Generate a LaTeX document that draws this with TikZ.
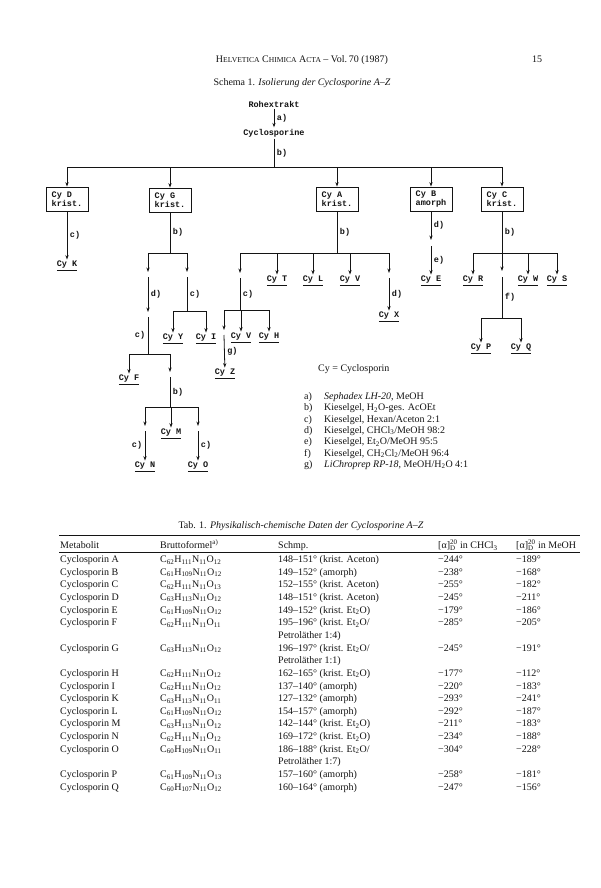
\documentclass[tikz,border=0pt]{standalone}
\usepackage{fontspec}
\setmainfont{Liberation Serif}
\newfontfamily\treefont{Liberation Mono}
\usetikzlibrary{arrows.meta}
\definecolor{ink}{RGB}{20,20,20}
\newcommand\tsub[1]{\textsubscript{#1}}
\newcommand\smc[1]{{\fontsize{7.6}{9}\selectfont #1}}
\newcommand\cy[1]{\underline{Cy #1}}
\newcommand\alD{[α]\rlap{\textsubscript{D}}\textsuperscript{20}}
\tikzset{
  cyfont/.style={font=\treefont\bfseries\fontsize{8.5}{9.5}\selectfont, text=ink},
  cytxt/.style={cyfont, inner sep=1.5pt},
  cybox/.style={cyfont, rectangle, draw=ink, line width=0.8pt, minimum width=42pt, minimum height=24pt, align=left, inner xsep=4pt},
  lab/.style={cyfont, right, inner sep=2.5pt},
  ln/.style={line width=0.8pt, color=ink},
  arr/.style={-{Stealth[length=4.5pt,width=3.2pt]}, line width=0.8pt, color=ink},
  txt/.style={font=\fontsize{10}{12}\selectfont, anchor=base west, inner sep=0pt, text=ink},
  ctxt/.style={txt, anchor=base}
}

\begin{document}
\begin{tikzpicture}[x=1pt, y=-1pt]
  \useasboundingbox (0,0) rectangle (600,888);
  \fill[white] (0,0) rectangle (600,888);

  % Page head
  \node[ctxt] (head) at (302,62.5) {H\smc{ELVETICA} C\smc{HIMICA} A\smc{CTA} -- Vol.\,70 (1987)};
  \node[txt] (pageno) at (532,62.5) {15};
  \node[ctxt] (schema) at (302,85.5) {Schema 1. \textit{Isolierung der Cyclosporine A--Z}};

  % Trunk
  \node[cytxt] (roh) at (274,104) {Rohextrakt};
  \node[cytxt] (cyc) at (274,133) {Cyclosporine};
  \draw[arr] (roh) -- (cyc) node[lab, midway] {a)};
  \coordinate (top) at (274,167);
  \draw[ln] (cyc) -- (top) node[lab, midway] {b)};

  % Crystallised / amorphous fractions
  \node[cybox] (cyD) at (67,199) {Cy D\\krist.};
  \node[cybox] (cyG) at (170,200) {Cy G\\krist.};
  \node[cybox] (cyA) at (337,199) {Cy A\\krist.};
  \node[cybox] (cyB) at (431,199) {Cy B\\amorph};
  \node[cybox] (cyC) at (502,199) {Cy C\\krist.};
  \draw[ln] (cyD |- top) -- (cyC |- top);
  \foreach \b in {cyD,cyG,cyA,cyB,cyC}
    \draw[arr] (\b |- top) -- (\b);

  % Cy D
  \node[cytxt] (cyK) at (67,266) {\cy{K}};
  \draw[arr] (cyD) -- (cyK) node[lab, midway] {c)};

  % Cy G
  \coordinate (gB) at (170,253);
  \draw[ln] (cyG) -- (gB) node[lab, midway] {b)};
  \coordinate (g1) at (148,272);
  \coordinate (g2) at (187,272);
  \draw[ln] (g1 |- gB) -- (g2 |- gB);
  \draw[arr] (g1 |- gB) -- (g1);
  \draw[arr] (g2 |- gB) -- (g2);
  \coordinate (g3) at (148,312);
  \draw[arr] ([yshift=-5pt]g1) -- (g3) node[lab, midway] {d)};
  \coordinate (gF) at (148,354);
  \draw[ln] ([yshift=-5pt]g3) -- (gF) node[lab, left, midway] {c)};
  \node[cytxt] (cyF) at (129,380) {\cy{F}};
  \coordinate (g4) at (170,372);
  \draw[ln] (cyF |- gF) -- (g4 |- gF);
  \draw[arr] (cyF |- gF) -- (cyF);
  \draw[arr] (g4 |- gF) -- (g4);
  \coordinate (gM) at (170,407);
  \draw[ln] ([yshift=-5pt]g4) -- (gM) node[lab, midway] {b)};
  \coordinate (g5) at (145,426);
  \coordinate (g6) at (198,426);
  \node[cytxt] (cyM) at (171,434) {\cy{M}};
  \draw[ln] (g5 |- gM) -- (g6 |- gM);
  \draw[arr] (g5 |- gM) -- (g5);
  \draw[arr] (cyM |- gM) -- (cyM);
  \draw[arr] (g6 |- gM) -- (g6);
  \node[cytxt] (cyN) at (145,467) {\cy{N}};
  \node[cytxt] (cyO) at (198,467) {\cy{O}};
  \draw[arr] ([yshift=-5pt]g5) -- (cyN) node[lab, left, midway] {c)};
  \draw[arr] ([yshift=-5pt]g6) -- (cyO) node[lab, midway] {c)};
  \coordinate (gY) at (187,311);
  \draw[ln] ([yshift=-5pt]g2) -- (gY) node[lab, midway] {c)};
  \node[cytxt] (cyY) at (173,339) {\cy{Y}};
  \node[cytxt] (cyI) at (206,339) {\cy{I}};
  \draw[ln] (cyY |- gY) -- (cyI |- gY);
  \draw[arr] (cyY |- gY) -- (cyY);
  \draw[arr] (cyI |- gY) -- (cyI);

  % Cy A
  \coordinate (aB) at (337,253);
  \draw[ln] (cyA) -- (aB) node[lab, midway] {b)};
  \coordinate (a1) at (240,273);
  \coordinate (a2) at (389,273);
  \node[cytxt] (cyT) at (277,281) {\cy{T}};
  \node[cytxt] (cyL) at (313,281) {\cy{L}};
  \node[cytxt] (cyV) at (350,281) {\cy{V}};
  \draw[ln] (a1 |- aB) -- (a2 |- aB);
  \foreach \n in {a1,cyT,cyL,cyV,a2}
    \draw[arr] (\n |- aB) -- (\n);
  \node[cytxt] (cyX) at (389,317) {\cy{X}};
  \draw[arr] ([yshift=-5pt]a2) -- (cyX) node[lab, midway] {d)};
  \coordinate (aC) at (240,310);
  \draw[ln] ([yshift=-5pt]a1) -- (aC) node[lab, midway] {c)};
  \coordinate (a3) at (224,330);
  \node[cytxt] (cyVb) at (241,338) {\cy{V}};
  \node[cytxt] (cyH) at (269,338) {\cy{H}};
  \draw[ln] (a3 |- aC) -- (cyH |- aC);
  \foreach \n in {a3,cyVb,cyH}
    \draw[arr] (\n |- aC) -- (\n);
  \node[cytxt] (cyZ) at (225,374) {\cy{Z}};
  \draw[arr] ([yshift=-5pt]a3) -- (cyZ) node[lab, midway] {g)};

  % Cy B
  \coordinate (b1) at (431,240);
  \draw[arr] (cyB) -- (b1) node[lab, midway] {d)};
  \node[cytxt] (cyE) at (431,281) {\cy{E}};
  \draw[arr] ([yshift=-6pt]b1) -- (cyE) node[lab, midway] {e)};

  % Cy C
  \coordinate (cB) at (502,253);
  \draw[ln] (cyC) -- (cB) node[lab, midway] {b)};
  \node[cytxt] (cyR) at (473,281) {\cy{R}};
  \coordinate (c1) at (502,271);
  \node[cytxt] (cyW) at (528,281) {\cy{W}};
  \node[cytxt] (cyS) at (557,281) {\cy{S}};
  \draw[ln] (cyR |- cB) -- (cyS |- cB);
  \foreach \n in {cyR,c1,cyW,cyS}
    \draw[arr] (\n |- cB) -- (\n);
  \coordinate (cP) at (502,318);
  \draw[ln] ([yshift=-6pt]c1) -- (cP) node[lab, midway] {f)};
  \node[cytxt] (cyP) at (481,349) {\cy{P}};
  \node[cytxt] (cyQ) at (521,349) {\cy{Q}};
  \draw[ln] (cyP |- cP) -- (cyQ |- cP);
  \draw[arr] (cyP |- cP) -- (cyP);
  \draw[arr] (cyQ |- cP) -- (cyQ);

  % Legend
  \node[txt] (cyeq) at (318,371.5) {Cy = Cyclosporin};
  \foreach \i/\k/\t in {0/a/{\textit{Sephadex LH-20}, MeOH},
      1/b/{Kieselgel, H\tsub{2}O-ges. AcOEt},
      2/c/{Kieselgel, Hexan/Aceton 2:1},
      3/d/{Kieselgel, CHCl\tsub{3}/MeOH 98:2},
      4/e/{Kieselgel, Et\tsub{2}O/MeOH 95:5},
      5/f/{Kieselgel, CH\tsub{2}Cl\tsub{2}/MeOH 96:4},
      6/g/{\textit{LiChroprep RP-18}, MeOH/H\tsub{2}O 4:1}}
  {
    \node[txt] (key\k) at (304,399.5+11.3*\i) {\k)};
    \node[txt] (leg\k) at (324,399.5+11.3*\i) {\t};
  }

  % Table
  \node[ctxt] (tabcap) at (301,528) {Tab. 1. \textit{Physikalisch-chemische Daten der Cyclosporine A--Z}};
  \coordinate (ruleL) at (59,535);
  \coordinate (ruleR) at (580,535);
  \draw[line width=0.9pt, ink] (ruleL) -- (ruleR);
  \draw[line width=0.4pt, ink] ([yshift=-17pt]ruleL) -- ([yshift=-17pt]ruleR);
  \node[txt] (hmet) at (60,548.5) {Metabolit};
  \node[txt] (hbr) at (160,548.5) {Bruttoformel\textsuperscript{a)}};
  \node[txt] (hsm) at (278,548.5) {Schmp.};
  \node[txt] (hch) at (438,548.5) {\alD{} in CHCl\tsub{3}};
  \node[txt] (hme) at (516,548.5) {\alD{} in MeOH};
  \foreach \i/\c/\f/\s/\p/\q in {
      0/A/{C\tsub{62}H\tsub{111}N\tsub{11}O\tsub{12}}/{148–151° (krist. Aceton)}/−244°/−189°,
      1/B/{C\tsub{61}H\tsub{109}N\tsub{11}O\tsub{12}}/{149–152° (amorph)}/−238°/−168°,
      2/C/{C\tsub{62}H\tsub{111}N\tsub{11}O\tsub{13}}/{152–155° (krist. Aceton)}/−255°/−182°,
      3/D/{C\tsub{63}H\tsub{113}N\tsub{11}O\tsub{12}}/{148–151° (krist. Aceton)}/−245°/−211°,
      4/E/{C\tsub{61}H\tsub{109}N\tsub{11}O\tsub{12}}/{149–152° (krist. Et\tsub{2}O)}/−179°/−186°,
      5/F/{C\tsub{62}H\tsub{111}N\tsub{11}O\tsub{11}}/{195–196° (krist. Et\tsub{2}O/}/−285°/−205°,
      7/G/{C\tsub{63}H\tsub{113}N\tsub{11}O\tsub{12}}/{196–197° (krist. Et\tsub{2}O/}/−245°/−191°,
      9/H/{C\tsub{62}H\tsub{111}N\tsub{11}O\tsub{12}}/{162–165° (krist. Et\tsub{2}O)}/−177°/−112°,
      10/I/{C\tsub{62}H\tsub{111}N\tsub{11}O\tsub{12}}/{137–140° (amorph)}/−220°/−183°,
      11/K/{C\tsub{63}H\tsub{113}N\tsub{11}O\tsub{11}}/{127–132° (amorph)}/−293°/−241°,
      12/L/{C\tsub{61}H\tsub{109}N\tsub{11}O\tsub{12}}/{154–157° (amorph)}/−292°/−187°,
      13/M/{C\tsub{63}H\tsub{113}N\tsub{11}O\tsub{12}}/{142–144° (krist. Et\tsub{2}O)}/−211°/−183°,
      14/N/{C\tsub{62}H\tsub{111}N\tsub{11}O\tsub{12}}/{169–172° (krist. Et\tsub{2}O)}/−234°/−188°,
      15/O/{C\tsub{60}H\tsub{109}N\tsub{11}O\tsub{11}}/{186–188° (krist. Et\tsub{2}O/}/−304°/−228°,
      17/P/{C\tsub{61}H\tsub{109}N\tsub{11}O\tsub{13}}/{157–160° (amorph)}/−258°/−181°,
      18/Q/{C\tsub{60}H\tsub{107}N\tsub{11}O\tsub{12}}/{160–164° (amorph)}/−247°/−156°}
  {
    \node[txt] (met\c) at (60,562.5+12.65*\i) {Cyclosporin \c};
    \node[txt] (br\c) at (160,562.5+12.65*\i) {\f};
    \node[txt] (sm\c) at (278,562.5+12.65*\i) {\s};
    \node[txt] (ch\c) at (438,562.5+12.65*\i) {\p};
    \node[txt] (me\c) at (516,562.5+12.65*\i) {\q};
  }
  \node[txt] (petF) at (278,562.5+12.65*6) {Petroläther 1:4)};
  \node[txt] (petG) at (278,562.5+12.65*8) {Petroläther 1:1)};
  \node[txt] (petO) at (278,562.5+12.65*16) {Petroläther 1:7)};
\end{tikzpicture}
\end{document}
